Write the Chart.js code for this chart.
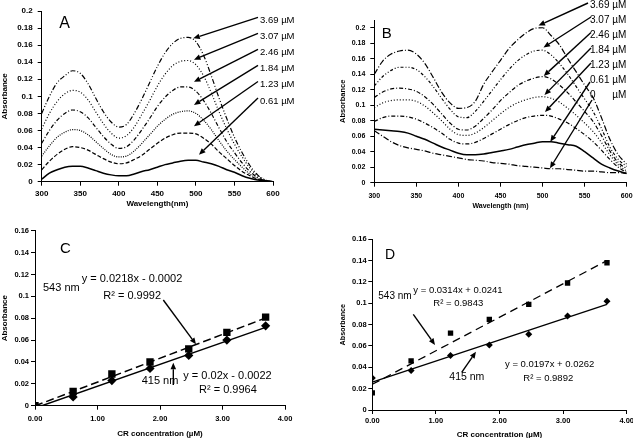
<!DOCTYPE html>
<html><head><meta charset="utf-8">
<script src="https://cdn.jsdelivr.net/npm/chart.js@4.4.1/dist/chart.umd.min.js"></script>
<style>
html,body{margin:0;padding:0;background:#fff;overflow:hidden;width:633px;height:438px;}
canvas{position:absolute;left:0;top:0;}
</style></head><body>
<canvas id="cA" width="660" height="450"></canvas>
<canvas id="cB" width="660" height="450"></canvas>
<canvas id="cC" width="660" height="450"></canvas>
<canvas id="cD" width="660" height="450"></canvas>
<script>
// ---------- DATA ----------
const wavelengths = [300,310,320,330,340,350,360,370,380,390,400,410,420,430,440,450,460,470,480,490,500,510,520,530,540,550,560,570,580,590,600];

const seriesA_names = ['3.69 µM','3.07 µM','2.46 µM','1.84 µM','1.23 µM','0.61 µM'];
const specA_369 = [0.080,0.100,0.116,0.124,0.130,0.127,0.115,0.098,0.082,0.070,0.064,0.067,0.080,0.097,0.116,0.135,0.151,0.162,0.168,0.169,0.164,0.148,0.124,0.098,0.074,0.052,0.034,0.019,0.008,0.002,0.000];
const specA_307 = [0.062,0.080,0.094,0.103,0.107,0.105,0.096,0.082,0.068,0.057,0.051,0.054,0.064,0.079,0.095,0.112,0.126,0.136,0.141,0.142,0.137,0.124,0.104,0.082,0.062,0.044,0.029,0.016,0.007,0.002,0.000];
const specA_246 = [0.045,0.060,0.072,0.080,0.084,0.082,0.075,0.064,0.053,0.044,0.039,0.041,0.049,0.061,0.074,0.088,0.099,0.107,0.111,0.111,0.106,0.095,0.080,0.063,0.047,0.034,0.022,0.012,0.005,0.001,0.000];
const specA_184 = [0.030,0.042,0.052,0.058,0.061,0.060,0.055,0.047,0.039,0.032,0.029,0.030,0.036,0.045,0.055,0.065,0.073,0.079,0.082,0.083,0.080,0.072,0.061,0.048,0.036,0.026,0.017,0.009,0.004,0.001,0.000];
const specA_123 = [0.014,0.024,0.032,0.038,0.041,0.040,0.037,0.032,0.027,0.023,0.021,0.022,0.026,0.031,0.038,0.045,0.051,0.055,0.057,0.057,0.056,0.051,0.044,0.035,0.027,0.019,0.012,0.007,0.003,0.001,0.000];
const specA_061 = [0.003,0.010,0.014,0.017,0.018,0.018,0.016,0.013,0.010,0.008,0.007,0.007,0.009,0.012,0.014,0.017,0.020,0.022,0.024,0.025,0.025,0.023,0.021,0.018,0.014,0.011,0.007,0.004,0.002,0.001,0.000];

const seriesB_names = ['3.69 µM','3.07 µM','2.46 µM','1.84 µM','1.23 µM','0.61 µM','0      µM'];
const specB_369 = [0.140,0.157,0.166,0.170,0.171,0.166,0.154,0.136,0.117,0.103,0.096,0.097,0.105,0.127,0.143,0.158,0.173,0.184,0.193,0.199,0.200,0.190,0.178,0.160,0.143,0.126,0.110,0.084,0.056,0.036,0.024];
const specB_307 = [0.125,0.137,0.145,0.149,0.149,0.146,0.137,0.124,0.109,0.095,0.085,0.084,0.092,0.105,0.119,0.133,0.146,0.157,0.165,0.170,0.171,0.165,0.154,0.140,0.124,0.108,0.092,0.070,0.046,0.030,0.021];
const specB_246 = [0.110,0.117,0.121,0.122,0.121,0.118,0.111,0.101,0.089,0.077,0.069,0.068,0.073,0.083,0.094,0.106,0.116,0.125,0.131,0.135,0.137,0.134,0.126,0.116,0.104,0.092,0.079,0.061,0.041,0.026,0.018];
const specB_184 = [0.097,0.103,0.106,0.107,0.107,0.105,0.099,0.090,0.080,0.069,0.062,0.061,0.064,0.071,0.080,0.089,0.097,0.103,0.107,0.110,0.111,0.109,0.104,0.096,0.087,0.077,0.066,0.052,0.036,0.023,0.015];
const specB_123 = [0.079,0.084,0.086,0.086,0.085,0.082,0.077,0.071,0.064,0.056,0.051,0.050,0.052,0.057,0.063,0.069,0.075,0.080,0.084,0.086,0.087,0.086,0.082,0.077,0.070,0.062,0.053,0.042,0.030,0.020,0.013];
const specB_061 = [0.069,0.068,0.067,0.066,0.064,0.060,0.056,0.051,0.046,0.042,0.038,0.036,0.036,0.037,0.039,0.041,0.043,0.046,0.049,0.051,0.053,0.053,0.051,0.049,0.047,0.040,0.032,0.024,0.019,0.015,0.012];
const specB_000 = [0.067,0.060,0.053,0.048,0.045,0.043,0.041,0.038,0.036,0.034,0.032,0.030,0.029,0.028,0.026,0.025,0.024,0.022,0.021,0.020,0.019,0.018,0.018,0.017,0.016,0.015,0.015,0.014,0.013,0.013,0.012];

const concentrations = [0, 0.61, 1.23, 1.84, 2.46, 3.07, 3.69];
const absC_543 = [0.000, 0.013, 0.029, 0.040, 0.052, 0.067, 0.081];
const absC_415 = [0.000, 0.008, 0.023, 0.034, 0.046, 0.060, 0.073];
const absD_543 = [0.016, 0.046, 0.072, 0.085, 0.099, 0.119, 0.138];
const absD_415 = [0.030, 0.037, 0.051, 0.061, 0.071, 0.088, 0.102];

// trend line end points (x = 0 and x = 3.69)
const trendX = [0, 3.69];
const trendC_543 = [-0.0002, 0.0802];
const trendC_415 = [-0.0022, 0.0716];
const trendD_543 = [0.0241, 0.1400];
const trendD_415 = [0.0262, 0.0989];

// ticks
const waveTicks = [300,350,400,450,500,550,600];
const waveTickLabels = ['300','350','400','450','500','550','600'];
const specYTicks = [0,0.02,0.04,0.06,0.08,0.1,0.12,0.14,0.16,0.18,0.2];
const specYTickLabels = ['0','0.02','0.04','0.06','0.08','0.1','0.12','0.14','0.16','0.18','0.2'];
const concTicks = [0,1,2,3,4];
const concTickLabels = ['0.00','1.00','2.00','3.00','4.00'];
const calYTicks = [0,0.02,0.04,0.06,0.08,0.1,0.12,0.14,0.16];
const calYTickLabels = ['0','0.02','0.04','0.06','0.08','0.1','0.12','0.14','0.16'];

// ---------- HELPERS ----------
const FONT = "'Liberation Sans', Arial, Helvetica, sans-serif";
const CW = 660, CH = 450;
const pts = (xs, ys) => xs.map((x, i) => ({x: x, y: ys[i]}));

function drawArrow(ctx, x1, y1, x2, y2) {
  const ang = Math.atan2(y2 - y1, x2 - x1), hl = 6.5, hw = 2.8;
  const bx = x2 - hl * Math.cos(ang), by = y2 - hl * Math.sin(ang);
  ctx.lineWidth = 1.4;
  ctx.beginPath(); ctx.moveTo(x1, y1); ctx.lineTo(bx, by); ctx.stroke();
  ctx.beginPath(); ctx.moveTo(x2, y2);
  ctx.lineTo(bx + hw * Math.sin(ang), by - hw * Math.cos(ang));
  ctx.lineTo(bx - hw * Math.sin(ang), by + hw * Math.cos(ang));
  ctx.closePath(); ctx.fill();
}

function makeAnnot(def) {
  return {
    id: 'annot',
    afterDraw(chart) {
      const ctx = chart.ctx, xs = chart.scales.x, ys = chart.scales.y;
      ctx.save();
      ctx.fillStyle = '#000'; ctx.strokeStyle = '#000';
      def.arrows.forEach(a => {
        drawArrow(ctx, a.tail[0], a.tail[1], xs.getPixelForValue(a.tip[0]), ys.getPixelForValue(a.tip[1]));
      });
      def.texts.forEach(t => {
        ctx.font = t.size + 'px ' + FONT;
        ctx.textAlign = t.align || 'left';
        ctx.textBaseline = 'middle';
        ctx.fillText(t.text, t.x, t.y);
      });
      ctx.restore();
    }
  };
}

function buildChart(id, p) {
  const b = p.box;
  return new Chart(document.getElementById(id), {
    type: 'scatter',
    data: { datasets: p.datasets },
    options: {
      responsive: false, animation: false, devicePixelRatio: 1, events: [],
      layout: { padding: { left: b.L, right: CW - b.cr, top: b.ct, bottom: CH - b.xb } },
      plugins: { legend: { display: false }, tooltip: { enabled: false } },
      scales: {
        x: {
          type: 'linear', min: p.xMin, max: p.xMax,
          afterFit: s => { s.height = b.xb - b.cb; },
          afterBuildTicks: s => { s.ticks = p.xTicks.map(v => ({ value: v })); },
          ticks: { callback: (v, i) => p.xTickLabels[i], autoSkip: false, maxRotation: 0, color: '#000',
                   padding: p.xPad, font: { family: FONT, size: p.tickSize, weight: 'bold' } },
          grid: { drawOnChartArea: false, tickLength: 4, color: '#000' },
          border: { color: '#000', width: 1 },
          title: { display: true, text: p.xTitle, color: '#000', padding: 0,
                   font: { family: FONT, size: p.xTitleSize, weight: 'bold' } }
        },
        y: {
          type: 'linear', min: p.yMin, max: p.yMax,
          afterFit: s => { s.width = b.cl - b.L; },
          afterBuildTicks: s => { s.ticks = p.yTicks.map(v => ({ value: v })); },
          ticks: { callback: (v, i) => p.yTickLabels[i], autoSkip: false, color: '#000',
                   padding: p.yPad, font: { family: FONT, size: p.tickSize, weight: 'bold' } },
          grid: { drawOnChartArea: false, tickLength: 4, color: '#000' },
          border: { color: '#000', width: 1 },
          title: { display: true, text: 'Absorbance', color: '#000', padding: 0,
                   font: { family: FONT, size: p.yTitleSize, weight: 'bold' } }
        }
      }
    },
    plugins: [makeAnnot(p.annot)]
  });
}

function curve(vals, dash, width) {
  return { data: pts(wavelengths, vals), showLine: true, borderColor: '#000', borderWidth: width || 1.2,
           borderDash: dash, pointRadius: 0, cubicInterpolationMode: 'monotone', fill: false };
}
function markers(vals, style, r) {
  return { data: pts(concentrations, vals), showLine: false, pointStyle: style, pointRadius: r,
           backgroundColor: '#000', borderColor: '#000', borderWidth: 0 };
}
function trend(vals, dash, width) {
  return { data: pts(trendX, vals), showLine: true, borderColor: '#000', borderWidth: width,
           borderDash: dash, pointRadius: 0, fill: false };
}

// ---------- PANEL A ----------
const tipsA = [[496.6,0.168],[497.5,0.143],[497.5,0.117],[497.5,0.090],[497.5,0.065],[504,0.0316]];
const labYA = [20.3, 36.3, 52.3, 68.3, 84.5, 101];
buildChart('cA', {
  box: { L: 0, cl: 41.7, cr: 273, ct: 11, cb: 181.7, xb: 208.1 },
  xMin: 300, xMax: 600, yMin: 0, yMax: 0.2,
  xTicks: waveTicks, xTickLabels: waveTickLabels, yTicks: specYTicks, yTickLabels: specYTickLabels,
  xPad: 3, yPad: 5, tickSize: 8, xTitle: 'Wavelength(nm)', xTitleSize: 8, yTitleSize: 8,
  datasets: [
    curve(specA_369, [5,2,1,2,1,2]),
    curve(specA_307, [1,2]),
    curve(specA_246, [4,2,1,2]),
    curve(specA_184, [1,1.3]),
    curve(specA_123, [4,2]),
    curve(specA_061, [], 1.5)
  ],
  annot: {
    texts: [{ text: 'A', x: 64.5, y: 24, size: 16, align: 'center' }]
      .concat(seriesA_names.map((n, i) => ({ text: n, x: 260, y: labYA[i], size: 9.5 }))),
    arrows: tipsA.map((t, i) => ({ tail: [258, labYA[i] - 3], tip: t }))
  }
});

// ---------- PANEL B ----------
const tipsB = [[495.2,0.2028],[501.1,0.1745],[501.4,0.1377],[502.3,0.1132],[502.9,0.0912],[509.2,0.0529],[508.8,0.0186]];
const labYB = [5.5, 20, 35, 50, 65, 80, 95];
const tailsB = [[588,3],[591,17],[591,32.5],[591,48],[591,63],[590,82],[592,100]];
buildChart('cB', {
  box: { L: 338.8, cl: 374.3, cr: 626.7, ct: 20, cb: 182.7, xb: 210.6 },
  xMin: 300, xMax: 600, yMin: 0, yMax: 0.21,
  xTicks: waveTicks, xTickLabels: waveTickLabels, yTicks: specYTicks, yTickLabels: specYTickLabels,
  xPad: 5, yPad: 5, tickSize: 7, xTitle: 'Wavelength (nm)', xTitleSize: 7, yTitleSize: 7.5,
  datasets: [
    curve(specB_369, [6,2,1,2]),
    curve(specB_307, [3,2,1,2,1,2]),
    curve(specB_246, [4,2,1,2]),
    curve(specB_184, [1,2]),
    curve(specB_123, [4,2,1,2]),
    curve(specB_061, [], 1.5),
    curve(specB_000, [6,2,1,2])
  ],
  annot: {
    texts: [{ text: 'B', x: 386.7, y: 33.5, size: 15, align: 'center' }]
      .concat(seriesB_names.map((n, i) => ({ text: n, x: 590, y: labYB[i], size: 10 }))),
    arrows: tipsB.map((t, i) => ({ tail: tailsB[i], tip: t }))
  }
});

// ---------- PANEL C ----------
buildChart('cC', {
  box: { L: 0, cl: 35, cr: 285, ct: 230.7, cb: 405.7, xb: 438.1 },
  xMin: 0, xMax: 4, yMin: 0, yMax: 0.16,
  xTicks: concTicks, xTickLabels: concTickLabels, yTicks: calYTicks, yTickLabels: calYTickLabels,
  xPad: 5.2, yPad: 2, tickSize: 7.5, xTitle: 'CR concentration (µM)', xTitleSize: 8, yTitleSize: 8,
  datasets: [
    trend(trendC_543, [8,4], 1.5),
    trend(trendC_415, [], 1.5),
    markers(absC_543, 'rect', 5.2),
    markers(absC_415, 'rectRot', 4.6)
  ],
  annot: {
    texts: [
      { text: 'C', x: 65.3, y: 248.5, size: 15, align: 'center' },
      { text: '543 nm', x: 43, y: 287.7, size: 11 },
      { text: 'y = 0.0218x - 0.0002', x: 81.7, y: 279, size: 11 },
      { text: 'R² = 0.9992', x: 103.3, y: 295.7, size: 11 },
      { text: '415 nm', x: 141.7, y: 380.7, size: 11 },
      { text: 'y = 0.02x - 0.0022', x: 183.3, y: 375.7, size: 11 },
      { text: 'R² = 0.9964', x: 199, y: 390, size: 11 }
    ],
    arrows: [
      { tail: [163.3, 300], tip: [2.576, 0.0561] },
      { tail: [173.3, 385], tip: [2.213, 0.0393] }
    ]
  }
});

// ---------- PANEL D ----------
buildChart('cD', {
  box: { L: 339, cl: 372.3, cr: 626.7, ct: 239.3, cb: 410, xb: 439.8 },
  xMin: 0, xMax: 4, yMin: 0, yMax: 0.16,
  xTicks: concTicks, xTickLabels: concTickLabels, yTicks: calYTicks, yTickLabels: calYTickLabels,
  xPad: 2, yPad: 1.6, tickSize: 7.5, xTitle: 'CR concentration (µM)', xTitleSize: 8, yTitleSize: 7.2,
  datasets: [
    trend(trendD_543, [8,5], 1.3),
    trend(trendD_415, [], 1.3),
    markers(absD_543, 'rect', 3.8),
    markers(absD_415, 'rectRot', 3.5)
  ],
  annot: {
    texts: [
      { text: 'D', x: 390, y: 255, size: 14, align: 'center' },
      { text: '543 nm', x: 378.3, y: 296.7, size: 10 },
      { text: 'y = 0.0314x + 0.0241', x: 413.3, y: 290, size: 9.5 },
      { text: 'R² = 0.9843', x: 433.3, y: 303.3, size: 9.5 },
      { text: '415 nm', x: 449.3, y: 376.7, size: 10.5 },
      { text: 'y = 0.0197x + 0.0262', x: 505, y: 364, size: 9.5 },
      { text: 'R² = 0.9892', x: 523.3, y: 378.3, size: 9.5 }
    ],
    arrows: [
      { tail: [413.3, 314.3], tip: [0.986, 0.0609] },
      { tail: [461.7, 372.3], tip: [1.630, 0.0546] }
    ]
  }
});
</script>
</body></html>
